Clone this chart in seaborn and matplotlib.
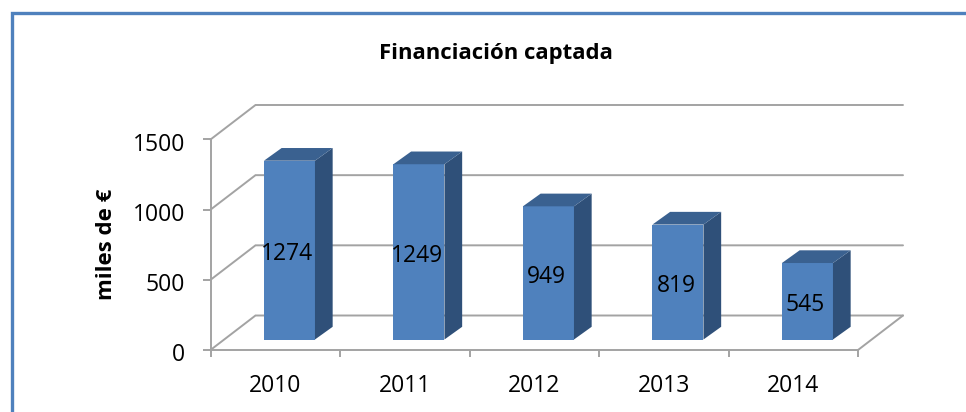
import seaborn as sns
import matplotlib.pyplot as plt
import pandas as pd
from matplotlib.patches import Polygon, Rectangle
from matplotlib.transforms import ScaledTranslation

years = ['2010', '2011', '2012', '2013', '2014']
funding = [1274, 1249, 949, 819, 545]
y_ticks = [0, 500, 1000, 1500]

W, H = 966, 412
BLUE = '#4F81BD'
SIDE = '#2F5079'
TOP = '#3A6190'
GRID = '#A3A3A3'
LW = 1.4

sns.set_theme(style = 'white')
plt.rcParams['font.family'] = ['Open Sans', 'DejaVu Sans']

df = pd.DataFrame({'year': years, 'funding': funding})

# front plane of the fake 3d box, in pixels of the figure
left, right, bottom, top = 210.5, 858, 350, 139.5

def axes_box(dx = 0, dy = 0):
  return [(left + dx) / W, (H - bottom + dy) / H, (right - left) / W, (bottom - top) / H]

fig = plt.figure(figsize = (W / 100, H / 100), dpi = 100)
ax = fig.add_axes(axes_box())
ax_bars = fig.add_axes(axes_box(14.2, 10.5))

px_x = 5 / (right - left)
px_y = 1500 / (bottom - top)

# walls and floor
wall_dx, wall_dy = 45 * px_x, 34.5 * px_y
for v in y_ticks:
  ax.plot([-0.5, -0.5 + wall_dx, 4.5 + wall_dx], [v, v + wall_dy, v + wall_dy],
          color = GRID, lw = LW, clip_on = False, solid_joinstyle = 'miter')
ax.plot([4.5, 4.5 + wall_dx], [0, wall_dy], color = GRID, lw = LW, clip_on = False)

ax.set_xlim(-0.5, 4.5)
ax.set_ylim(0, 1500)
ax.set_yticks(y_ticks)
ax.set_xticks([i - 0.5 for i in range(len(years) + 1)])
ax.set_xticklabels([])
ax.set_xticks(range(len(years)), years, minor = True)
ax.tick_params(axis = 'x', which = 'major', length = 5, width = LW, color = GRID, bottom = True)
ax.tick_params(axis = 'x', which = 'minor', length = 0, bottom = False, labelsize = 16.5, pad = 17.5, labelcolor = 'black')
ax.tick_params(axis = 'y', length = 6, width = LW, color = GRID, left = True, labelsize = 16.5, pad = 12.5, labelcolor = 'black')
sns.despine(ax = ax, top = True, right = True)
for side in ['left', 'bottom']:
  ax.spines[side].set_color(GRID)
  ax.spines[side].set_linewidth(LW)
ax.patch.set_alpha(0)

# y labels sit a little under their ticks in the original
down = ScaledTranslation(0, -1.5 / 72, fig.dpi_scale_trans)
for label in ax.get_yticklabels():
  label.set_transform(label.get_transform() + down)

# bars
sns.barplot(data = df, x = 'year', y = 'funding', ax = ax_bars, color = BLUE,
            saturation = 1, width = 0.394, linewidth = 0)
ax_bars.set_xlim(-0.5, 4.5)
ax_bars.set_ylim(0, 1500)
ax_bars.axis('off')

depth_x, depth_y = 17.7 * px_x, 12.7 * px_y
for bar, val in zip(ax_bars.patches, funding):
  x0, x1 = bar.get_x(), bar.get_x() + bar.get_width()
  ax_bars.add_patch(Polygon([(x1, 0), (x1 + depth_x, depth_y), (x1 + depth_x, val + depth_y), (x1, val)],
                            closed = True, facecolor = SIDE, edgecolor = 'none', clip_on = False))
  ax_bars.add_patch(Polygon([(x0, val), (x0 + depth_x, val + depth_y), (x1 + depth_x, val + depth_y), (x1, val)],
                            closed = True, facecolor = TOP, edgecolor = 'none', clip_on = False))
  ax_bars.annotate(str(val), ((x0 + x1) / 2, val / 2), xytext = (-2, -4), textcoords = 'offset pixels',
                   ha = 'center', va = 'center', fontsize = 16.5, color = 'black', annotation_clip = False, zorder = 5)

fig.text(496 / W, 1 - 53.5 / H, 'Financiación captada', ha = 'center', va = 'center',
         fontsize = 15.9, fontweight = 'bold', color = 'black')
fig.text(107 / W, 1 - 244 / H, 'miles de €', ha = 'center', va = 'center', rotation = 90,
         fontsize = 16, fontweight = 'bold', color = 'black')

# blue frame, open at the bottom and right
fig.add_artist(Rectangle((12 / W, -0.1), 1.2, 1.1 - 13.5 / H, transform = fig.transFigure,
                         facecolor = 'none', edgecolor = BLUE, lw = 2.4))

fig.savefig('out.png', dpi = 100)
